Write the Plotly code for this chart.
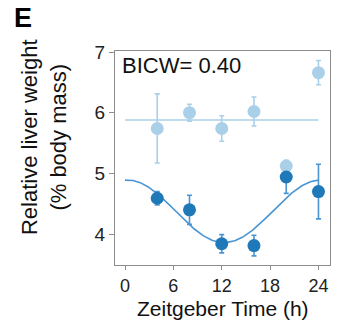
import numpy as np
import plotly.graph_objects as go

# Sampling times (Zeitgeber Time, h)
zt = [4, 8, 12, 16, 20, 24]

# Upper group: relative liver weight (% body mass), mean and SEM
upper_mean = [5.74, 6.00, 5.74, 6.02, 5.12, 6.66]
upper_sem = [0.57, 0.14, 0.21, 0.24, 0.03, 0.20]
upper_level = 5.88  # flat (non-rhythmic) model

# Lower group: relative liver weight (% body mass), mean and SEM
lower_mean = [4.59, 4.40, 3.84, 3.81, 4.94, 4.70]
lower_sem = [0.11, 0.24, 0.15, 0.17, 0.27, 0.45]

# Cosinor fit for the lower group (24 h period)
mesor = 4.375
amplitude = 0.515
acrophase = 0.3
period = 24

bicw_label = "BICW= 0.40"

LIGHT = "#a9d0e8"
DARK = "#1f78b8"
MID = "#4a95d3"
FONT = "Liberation Sans, Arial, sans-serif"

t_fit = np.linspace(0, 24, 241)
y_fit = mesor + amplitude * np.cos(2 * np.pi * (t_fit - acrophase) / period)

fig = go.Figure()

# lower-group error bars sit underneath everything else
fig.add_trace(go.Scatter(
    x=zt, y=lower_mean, mode="markers",
    marker=dict(color="rgba(0,0,0,0)", size=1),
    error_y=dict(type="data", array=lower_sem, color=MID, thickness=1.6, width=2.5),
    hoverinfo="skip"))
fig.add_trace(go.Scatter(
    x=[0, 24], y=[upper_level, upper_level], mode="lines",
    line=dict(color=LIGHT, width=1.6), hoverinfo="skip"))
fig.add_trace(go.Scatter(
    x=zt, y=upper_mean, mode="markers",
    marker=dict(color=LIGHT, size=13),
    error_y=dict(type="data", array=upper_sem, color=LIGHT, thickness=1.6, width=2.5)))
fig.add_trace(go.Scatter(
    x=t_fit, y=y_fit, mode="lines",
    line=dict(color=MID, width=1.6), hoverinfo="skip"))
fig.add_trace(go.Scatter(
    x=zt, y=lower_mean, mode="markers",
    marker=dict(color=DARK, size=13)))

axis_common = dict(
    showgrid=False, zeroline=False, showline=True, linecolor="#8c8c8c", linewidth=1,
    mirror=True, ticks="outside", ticklen=5, tickcolor="#8c8c8c", tickwidth=1,
    tickfont=dict(family=FONT, size=19, color="#222222"),
)

fig.update_layout(
    width=342, height=320,
    margin=dict(l=115, r=12, t=51, b=55),
    paper_bgcolor="white", plot_bgcolor="white",
    showlegend=False,
    xaxis=dict(range=[-1.24, 25.43], tickvals=[0, 6, 12, 18, 24],
               **{**axis_common, "ticklen": 4,
                  "tickfont": dict(family=FONT, size=18, color="#222222")}),
    yaxis=dict(range=[3.49, 7.017], tickvals=[4, 5, 6, 7], **axis_common),
    annotations=[
        dict(text="E", x=-0.478, y=1.154, xref="paper", yref="paper",
             xanchor="left", yanchor="middle", showarrow=False,
             font=dict(family=FONT, size=27, color="black", weight="bold")),
        dict(text=bicw_label, x=0.025, y=0.934, xref="paper", yref="paper",
             xanchor="left", yanchor="middle", showarrow=False,
             font=dict(family=FONT, size=22, color="#111111")),
        dict(text="Zeitgeber Time (h)", x=0.5, y=-0.205, xref="paper", yref="paper",
             xanchor="center", yanchor="middle", showarrow=False,
             font=dict(family=FONT, size=21, color="#111111")),
        dict(text="Relative liver weight<br>(% body mass)", x=-0.33, y=0.598,
             xref="paper", yref="paper", xanchor="center", yanchor="middle",
             textangle=-90, showarrow=False,
             font=dict(family=FONT, size=22, color="#111111")),
    ],
)

fig.write_html("out.html")
